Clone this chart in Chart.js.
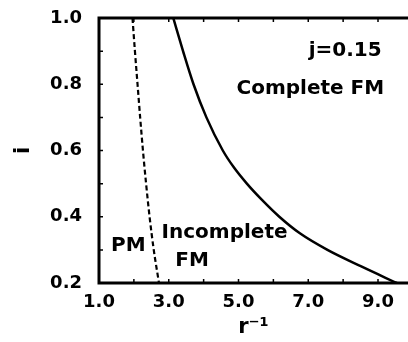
<!DOCTYPE html>
<html>
<head>
<meta charset="utf-8">
<script src="https://cdn.jsdelivr.net/npm/chart.js@4/dist/chart.umd.min.js"></script>
<style>
  body { margin: 0; background: #fff; }
  canvas { display: block; }
</style>
</head>
<body>
<canvas id="phaseChart" width="408" height="342"></canvas>
<script>
// boundary between Complete FM and Incomplete FM (solid)
const fmX = [3.13, 3.41, 3.71, 4.08, 4.55, 4.86, 5.24, 5.68, 6.17, 6.76, 7.55, 8.52, 9.54];
const fmI = [1.0, 0.9, 0.8, 0.7, 0.6, 0.55, 0.5, 0.45, 0.4, 0.35, 0.3, 0.25, 0.2];

// boundary between PM and Incomplete FM (dashed)
const pmX = [1.96, 2.03, 2.105, 2.18, 2.26, 2.35, 2.45, 2.57, 2.72];
const pmI = [1.0, 0.9, 0.8, 0.7, 0.6, 0.5, 0.4, 0.3, 0.2];

const xTickMarks = [1, 2, 3, 4, 5, 6, 7, 8, 9];
const xTickLabels = [1, 3, 5, 7, 9];
const yTickMarks = [0.2, 0.3, 0.4, 0.5, 0.6, 0.7, 0.8, 0.9, 1.0];
const yTickLabels = [0.2, 0.4, 0.6, 0.8, 1.0];

const regionLabels = ['j=0.15', 'Complete FM', 'PM', 'Incomplete', 'FM'];
const regionX = [8.06, 7.06, 1.84, 4.60, 3.67];
const regionI = [0.902, 0.787, 0.313, 0.352, 0.267];

const FONT = 'DejaVu Sans';

const toPoints = (xs, ys) => xs.map((x, k) => ({ x: x, y: ys[k] }));
const hasValue = (list, v) => list.some(t => Math.abs(t - v) < 1e-6);

// axes frame with inward ticks (left, top and bottom; right edge is cut off)
const framePlugin = {
    id: 'frame',
    afterDatasetsDraw(chart) {
        const { ctx, chartArea: a, scales } = chart;
        ctx.save();
        ctx.strokeStyle = '#000';
        ctx.lineWidth = 3;
        ctx.beginPath();
        ctx.moveTo(a.right + 2, a.top);
        ctx.lineTo(a.left, a.top);
        ctx.lineTo(a.left, a.bottom);
        ctx.lineTo(a.right + 2, a.bottom);
        ctx.stroke();

        ctx.lineWidth = 1.5;
        ctx.beginPath();
        yTickMarks.forEach(v => {
            const y = scales.y.getPixelForValue(v);
            ctx.moveTo(a.left, y);
            ctx.lineTo(a.left + 4, y);
        });
        xTickMarks.forEach(v => {
            const x = scales.x.getPixelForValue(v);
            ctx.moveTo(x, a.bottom);
            ctx.lineTo(x, a.bottom - 4);
            ctx.moveTo(x, a.top);
            ctx.lineTo(x, a.top + 4);
        });
        ctx.stroke();
        ctx.restore();
    }
};

const labelPlugin = {
    id: 'regionText',
    afterDatasetsDraw(chart) {
        const { ctx, scales } = chart;
        ctx.save();
        ctx.fillStyle = '#000';
        ctx.font = 'bold 20px "' + FONT + '"';
        ctx.textAlign = 'center';
        ctx.textBaseline = 'middle';
        regionLabels.forEach((t, k) => {
            ctx.fillText(t, scales.x.getPixelForValue(regionX[k]), scales.y.getPixelForValue(regionI[k]));
        });
        ctx.restore();
    }
};

const ctx = document.getElementById('phaseChart').getContext('2d');

const phaseChart = new Chart(ctx, {
    type: 'scatter',
    data: {
        datasets: [{
            label: 'FM boundary',
            data: toPoints(fmX, fmI),
            showLine: true,
            borderColor: '#000',
            borderWidth: 2.5,
            pointRadius: 0,
            cubicInterpolationMode: 'monotone'
        }, {
            label: 'PM boundary',
            data: toPoints(pmX, pmI),
            showLine: true,
            borderColor: '#000',
            borderWidth: 2.2,
            borderDash: [5, 3],
            pointRadius: 0,
            cubicInterpolationMode: 'monotone'
        }]
    },
    options: {
        responsive: false,
        animation: false,
        devicePixelRatio: 1,
        layout: { padding: { top: 18, right: 0, left: 0, bottom: 0 } },
        plugins: {
            legend: { display: false },
            tooltip: { enabled: false }
        },
        scales: {
            x: {
                type: 'linear',
                min: 1,
                max: 9.86,
                grid: { display: false, drawTicks: false },
                border: { display: false },
                afterBuildTicks: s => { s.ticks = xTickMarks.map(v => ({ value: v })); },
                afterFit: s => { s.height = 59; s.paddingRight = 0; },
                ticks: {
                    autoSkip: false,
                    maxRotation: 0,
                    padding: 9,
                    color: '#000',
                    font: { family: FONT, size: 18, weight: 'bold' },
                    callback: v => hasValue(xTickLabels, v) ? v.toFixed(1) : ''
                },
                title: {
                    display: true,
                    text: 'r⁻¹',
                    color: '#000',
                    font: { family: FONT, size: 21, weight: 'bold' },
                    padding: { top: 0, bottom: 2 }
                }
            },
            y: {
                type: 'linear',
                min: 0.2,
                max: 1.0,
                grid: { display: false, drawTicks: false },
                border: { display: false },
                afterBuildTicks: s => { s.ticks = yTickMarks.map(v => ({ value: v })); },
                afterFit: s => { s.width = 99; s.paddingTop = 0; s.paddingBottom = 0; },
                ticks: {
                    autoSkip: false,
                    padding: 17,
                    color: '#000',
                    font: { family: FONT, size: 18, weight: 'bold' },
                    callback: v => hasValue(yTickLabels, v) ? v.toFixed(1) : ''
                },
                title: {
                    display: true,
                    text: 'i',
                    color: '#000',
                    font: { family: FONT, size: 21, weight: 'bold' },
                    padding: { top: 11, bottom: 0 }
                }
            }
        }
    },
    plugins: [framePlugin, labelPlugin]
});
</script>
</body>
</html>
